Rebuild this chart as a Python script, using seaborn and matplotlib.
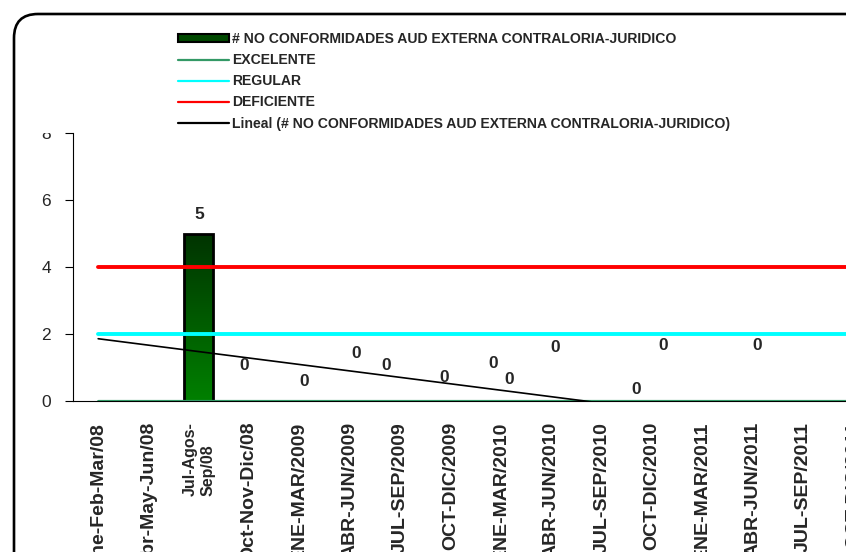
import numpy as np
import pandas as pd
import matplotlib
matplotlib.use("Agg")
import matplotlib.pyplot as plt
from matplotlib.patches import Patch, Rectangle, FancyBboxPatch
from matplotlib.lines import Line2D
from matplotlib.transforms import IdentityTransform
import seaborn as sns

# data
periodos = ['Ene-Feb-Mar/08', 'Abr-May-Jun/08', 'Jul-Agos-\nSep/08', 'Oct-Nov-Dic/08',
            'ENE-MAR/2009', 'ABR-JUN/2009', 'JUL-SEP/2009', 'OCT-DIC/2009',
            'ENE-MAR/2010', 'ABR-JUN/2010', 'JUL-SEP/2010', 'OCT-DIC/2010',
            'ENE-MAR/2011', 'ABR-JUN/2011', 'JUL-SEP/2011', 'OCT-DIC/2011']
no_conformidades = [np.nan, np.nan, 5, 0, 0, 0, 0, 0, 0, 0, 0, 0, 0, 0, np.nan, np.nan]
excelente = [0] * 16
regular = [2] * 16
deficiente = [4] * 16
y_ticks = [0, 2, 4, 6, 8]

# label offsets (pixels) as they were dragged in the original
label_offsets = [(0, 0), (0, 0), (0, 19), (-5, 36), (5, 20), (6, 47), (-14, 36),
                 (-6, 24), (-8, 37), (-42, 21), (-46, 54), (-16, 12), (-39, 55),
                 (4, 55), (0, 0), (0, 0)]

serie = '# NO CONFORMIDADES AUD EXTERNA CONTRALORIA-JURIDICO'

sns.set_style("white")
plt.rcParams['font.family'] = ['Liberation Sans', 'DejaVu Sans']

W, H = 846, 552
fig = plt.figure(figsize=(W / 100, H / 100), dpi=100)
cat_w = 50.35
ax = fig.add_axes([73 / W, (H - 401) / H, 16 * cat_w / W, (401 - 133) / H])

df = pd.DataFrame({'periodo': periodos, 'valor': no_conformidades})
x = np.arange(len(periodos))

sns.barplot(data=df, x='periodo', y='valor', order=periodos, color='#006000',
            width=0.58, edgecolor='black', linewidth=2.0, ax=ax, zorder=3)

# vertical gradient inside the bar
grad = np.linspace(0, 1, 256).reshape(-1, 1)
cmap = matplotlib.colors.LinearSegmentedColormap.from_list('g', ['#003300', '#008000'])
for p in ax.patches:
    if p.get_height() > 0:
        x0, y0 = p.get_x(), p.get_y()
        im = ax.imshow(grad, cmap=cmap, aspect='auto', zorder=3.1,
                       extent=[x0, x0 + p.get_width(), y0, y0 + p.get_height()])
        im.set_clip_path(p)
        p.set_facecolor('none')
        p.set_zorder(3.2)

sns.lineplot(x=x, y=excelente, color='#339966', linewidth=2.3, ax=ax, zorder=4)
sns.lineplot(x=x, y=regular, color='#00FFFF', linewidth=2.8, ax=ax, zorder=4)
sns.lineplot(x=x, y=deficiente, color='#FF0000', linewidth=2.8, ax=ax, zorder=4)

# linear trend over the non-empty points
vals = np.array(no_conformidades, dtype=float)
ok = ~np.isnan(vals)
m, b = np.polyfit(x[ok], vals[ok], 1)
xt = np.array([0, x[ok].max()])
ax.plot(xt, m * xt + b, color='black', linewidth=1.2, zorder=5)

for i, v in enumerate(no_conformidades):
    if np.isnan(v):
        continue
    dx, dy = label_offsets[i]
    ax.annotate(f'{v:g}', (i, v), xytext=(dx, dy), textcoords='offset pixels',
                ha='center', va='center', fontsize=12.5, fontweight='bold', zorder=6,
                annotation_clip=False)

ax.set_xlim(-0.5, len(periodos) - 0.5)
ax.set_ylim(0, 8)
ax.set_yticks(y_ticks)
ax.set_yticklabels([str(t) for t in y_ticks], fontsize=12.5)
ax.set_xlabel('')
ax.set_ylabel('')
ax.set_xticks(x)
ax.set_xticklabels(periodos, rotation=90, fontsize=14, fontweight='bold',
                   va='top', ha='center', multialignment='left')
for t in ax.get_xticklabels():
    if '\n' in t.get_text():
        t.set_fontsize(11.5)
ax.set_xticks(np.arange(-0.5, len(periodos)), minor=True)
ax.tick_params(axis='x', which='major', length=0, pad=15)
ax.tick_params(axis='x', which='minor', length=5, width=0.8, color='#666666', direction='out')
ax.tick_params(axis='y', length=6, width=0.8, color='black', direction='out', pad=10)
ax.tick_params(axis='both', left=True, bottom=True)
for s in ['top', 'right']:
    ax.spines[s].set_visible(False)
for s in ['left', 'bottom']:
    ax.spines[s].set_color('black')
    ax.spines[s].set_linewidth(0.8)

handles = [Patch(facecolor='#004800', edgecolor='black', linewidth=1.5),
           Line2D([], [], color='#339966', linewidth=1.6),
           Line2D([], [], color='#00FFFF', linewidth=1.6),
           Line2D([], [], color='#FF0000', linewidth=1.6),
           Line2D([], [], color='black', linewidth=1.6)]
labels = [serie, 'EXCELENTE', 'REGULAR', 'DEFICIENTE', 'Lineal (' + serie + ')']
fig.legend(handles, labels, loc='upper left', bbox_to_anchor=(178 / W, 1 - 32 / H),
           frameon=False, borderpad=0, borderaxespad=0, handlelength=3.6,
           handleheight=0.5, handletextpad=0.28, labelspacing=0.51,
           prop={'size': 10.1, 'weight': 'bold'})

# white area of the legend box hides the top of the "8"
fig.add_artist(Rectangle((25, H - 133), 40, 100, transform=IdentityTransform(),
                         facecolor='white', edgecolor='none', zorder=10))
fig.text(31 / W, 1 - 63 / H, ',', fontsize=6, ha='center', va='center')

# chart area border with rounded corner
fig.add_artist(FancyBboxPatch((14, -60), 900, H - 14 + 60, transform=IdentityTransform(),
                              boxstyle='round,pad=0,rounding_size=24',
                              facecolor='none', edgecolor='black', linewidth=1.9, zorder=11))

fig.savefig('out.png', dpi=100)
